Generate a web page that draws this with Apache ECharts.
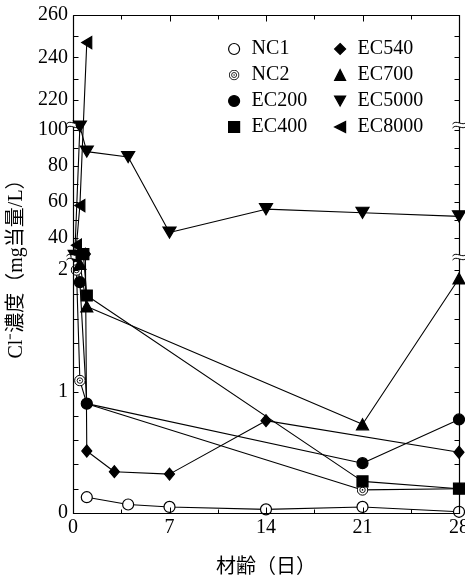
<!DOCTYPE html>
<html>
<head>
<meta charset="utf-8">
<script src="https://cdn.jsdelivr.net/npm/echarts@6/dist/echarts.min.js"></script>
<style>
  html, body { margin: 0; padding: 0; background: #fff; }
  #chart { width: 465px; height: 578px; }
</style>
</head>
<body>
<div id="chart"></div>
<script>
// Cl- concentration vs. age, broken y axis (0-2 / 30-100 / 210-260)

var nc1Days = [1, 4, 7, 14, 21, 28];
var nc1Cl = [0.13, 0.07, 0.05, 0.03, 0.05, 0.01];

var nc2Days = [0.25, 0.5, 1, 21, 28];
var nc2Cl = [2.0, 1.09, 0.9, 0.19, 0.2];

var ec200Days = [0.25, 0.5, 1, 21, 28];
var ec200Cl = [30, 1.9, 0.9, 0.41, 0.77];

var ec400Days = [0.75, 1, 21, 28];
var ec400Cl = [31, 1.79, 0.26, 0.2];

var ec540Days = [0.9, 1, 3, 7, 14, 28];
var ec540Cl = [31, 0.51, 0.34, 0.32, 0.76, 0.5];

var ec700Days = [0.5, 1, 21, 28];
var ec700Cl = [2.05, 1.7, 0.73, 1.93];

var ec5000Days = [0.125, 0.5, 1, 4, 7, 14, 21, 28];
var ec5000Cl = [30, 102, 88, 85, 43, 56, 54, 52];

var ec8000Days = [0.25, 0.5, 1];
var ec8000Cl = [36, 58, 247];

var yLabels = [0, 1, 2, 40, 60, 80, 100, 220, 240, 260];

// axis pieces: value range and how tall each piece is drawn
var segments = [
  { lo: 0, hi: 2.107, span: 256 },
  { lo: 29.4, hi: 102.8, span: 132 },
  { lo: 208.2, hi: 260, span: 110 }
];
var axisTop = 498;

function toAxis(v) {
  var base = 0;
  for (var i = 0; i < segments.length; i++) {
    var s = segments[i];
    if (v <= s.hi) return base + Math.max(0, v - s.lo) / (s.hi - s.lo) * s.span;
    base += s.span;
  }
  return base;
}
function fromAxis(d) {
  var base = 0;
  for (var i = 0; i < segments.length; i++) {
    var s = segments[i];
    if (d <= base + s.span + 1e-6) return s.lo + (d - base) / s.span * (s.hi - s.lo);
    base += s.span;
  }
  return segments[segments.length - 1].hi;
}

var minorTicks = [];
for (var t = 0; t <= 2.0001; t += 0.2) minorTicks.push(toAxis(t));
for (var t = 40; t <= 100; t += 10) minorTicks.push(toAxis(t));
for (var t = 220; t <= 260; t += 10) minorTicks.push(toAxis(t));

function pairs(days, vals) {
  return days.map(function (d, i) { return [d, toAxis(vals[i])]; });
}

var svgNC2 = "<svg xmlns='http://www.w3.org/2000/svg' width='24' height='24'>" +
  "<circle cx='12' cy='12' r='10.5' fill='white' stroke='black' stroke-width='2'/>" +
  "<circle cx='12' cy='12' r='5.5' fill='none' stroke='black' stroke-width='1.8'/>" +
  "<circle cx='12' cy='12' r='1.6' fill='black'/></svg>";
var nc2Symbol = 'image://data:image/svg+xml;charset=utf-8,' + encodeURIComponent(svgNC2);
var downTri = 'path://M0,0 L10,0 L5,9 Z';
var leftTri = 'path://M10,0 L10,10 L0,5 Z';

var font = "'Liberation Serif', 'Noto Sans CJK JP', serif";
var black = '#000';

var seriesDefs = [
  { name: 'NC1', days: nc1Days, vals: nc1Cl, symbol: 'circle', size: 11, fill: '#fff' },
  { name: 'NC2', days: nc2Days, vals: nc2Cl, symbol: nc2Symbol, size: 12, fill: '#fff' },
  { name: 'EC200', days: ec200Days, vals: ec200Cl, symbol: 'circle', size: 11, fill: black },
  { name: 'EC400', days: ec400Days, vals: ec400Cl, symbol: 'rect', size: 11, fill: black },
  { name: 'EC540', days: ec540Days, vals: ec540Cl, symbol: 'diamond', size: [10, 12], fill: black },
  { name: 'EC700', days: ec700Days, vals: ec700Cl, symbol: 'triangle', size: [12, 11], fill: black },
  { name: 'EC5000', days: ec5000Days, vals: ec5000Cl, symbol: downTri, size: [13, 11], fill: black },
  { name: 'EC8000', days: ec8000Days, vals: ec8000Cl, symbol: leftTri, size: [10, 12], fill: black }
];

var series = seriesDefs.map(function (s) {
  return {
    name: s.name,
    type: 'line',
    xAxisIndex: 0,
    yAxisIndex: 0,
    data: pairs(s.days, s.vals),
    symbol: s.symbol,
    symbolSize: s.size,
    showAllSymbol: true,
    clip: false,
    lineStyle: { color: black, width: 1.1 },
    itemStyle: { color: s.fill, borderColor: black, borderWidth: 1.2 },
    emphasis: { disabled: true },
    z: 3
  };
});

function legendItems(names, icons) {
  return names.map(function (n, i) {
    var d = seriesDefs.filter(function (s) { return s.name === n; })[0];
    return { name: n, icon: icons[i], itemStyle: { color: d.fill, borderColor: black, borderWidth: 1.2 } };
  });
}

var legendBase = {
  orient: 'vertical',
  top: 34,
  itemWidth: 11,
  itemHeight: 11,
  itemGap: 6,
  selectedMode: false,
  textStyle: { fontFamily: font, fontSize: 20, color: black, lineHeight: 20, padding: [0, 0, 0, 7] }
};

var myChart = echarts.init(document.getElementById('chart'));

var noLine = { show: false };

var option = {
  animation: false,
  backgroundColor: '#fff',
  grid: { left: 73, right: 6, top: 15, bottom: 65, outerBoundsMode: 'none' },
  legend: [
    Object.assign({}, legendBase, {
      left: 223,
      data: legendItems(['NC1', 'NC2', 'EC200', 'EC400'], ['circle', nc2Symbol, 'circle', 'rect'])
    }),
    Object.assign({}, legendBase, {
      left: 329,
      data: legendItems(['EC540', 'EC700', 'EC5000', 'EC8000'], ['diamond', 'triangle', downTri, leftTri])
    })
  ],
  xAxis: [{
    type: 'value',
    min: 0,
    max: 28,
    interval: 7,
    name: '材齢（日）',
    nameLocation: 'middle',
    nameGap: 45,
    nameTextStyle: { fontFamily: font, fontSize: 20, color: black },
    axisLine: noLine,
    axisTick: noLine,
    axisLabel: { fontFamily: font, fontSize: 20, color: black, margin: 5, hideOverlap: false },
    splitLine: { show: false }
  }],
  yAxis: [{
    type: 'value',
    min: 0,
    max: axisTop,
    name: 'Cl⁻濃度（mg当量/L）',
    nameLocation: 'middle',
    nameGap: 34,
    nameTextStyle: { fontFamily: font, fontSize: 20, color: black },
    axisLine: noLine,
    axisTick: noLine,
    axisLabel: {
      fontFamily: font, fontSize: 20, color: black, margin: 5,
      customValues: yLabels.map(toAxis),
      formatter: function (d) { return String(Math.round(fromAxis(d) * 10) / 10); }
    },
    splitLine: { show: false }
  }],
  series: series
};

myChart.setOption(option);

// frame, inward ticks and break marks, placed through the axes' own scales
function px(day, d) {
  return myChart.convertToPixel({ xAxisIndex: 0, yAxisIndex: 0 }, [day, d]);
}
var graphics = [];
function poly(points, w) {
  graphics.push({
    type: 'polyline',
    shape: { points: points },
    style: { stroke: black, lineWidth: w || 1, fill: null },
    z: 5
  });
}
var lb = px(0, 0), rt = px(28, axisTop);
var L = Math.round(lb[0]) + 0.5, B = Math.round(lb[1]) + 0.5;
var R = Math.round(rt[0]) + 0.5, T = Math.round(rt[1]) + 0.5;
poly([[L, T], [R, T], [R, B], [L, B], [L, T]], 1.2);

minorTicks.forEach(function (d) {
  var y = Math.round(px(0, d)[1]) + 0.5;
  poly([[L, y], [L + 5, y]]);
  poly([[R - 5, y], [R, y]]);
});
for (var day = 0; day <= 28; day += 3.5) {
  var x = Math.round(px(day, 0)[0]) + 0.5;
  var len = day % 7 === 0 ? 6 : 4;
  poly([[x, B], [x, B - len]]);
  poly([[x, T], [x, T + len]]);
}

var breakAt = [segments[0].span, segments[0].span + segments[1].span];
[0, 28].forEach(function (dd) {
  breakAt.forEach(function (d) {
    var p = px(dd, d);
    var bx = Math.round(p[0]) + 0.5, by = p[1];
    graphics.push({ type: 'rect', shape: { x: bx - 2, y: by - 2, width: 4, height: 4 }, style: { fill: '#fff' }, z: 10 });
    [-2, 2].forEach(function (dy) {
      graphics.push({
        type: 'bezierCurve',
        shape: { x1: bx - 7, y1: by + dy + 1, cpx1: bx - 3, cpy1: by + dy - 4, cpx2: bx + 3, cpy2: by + dy + 4, x2: bx + 7, y2: by + dy - 1 },
        style: { stroke: black, lineWidth: 1, fill: null },
        z: 11
      });
    });
  });
});
myChart.setOption({ graphic: graphics });
</script>
</body>
</html>
